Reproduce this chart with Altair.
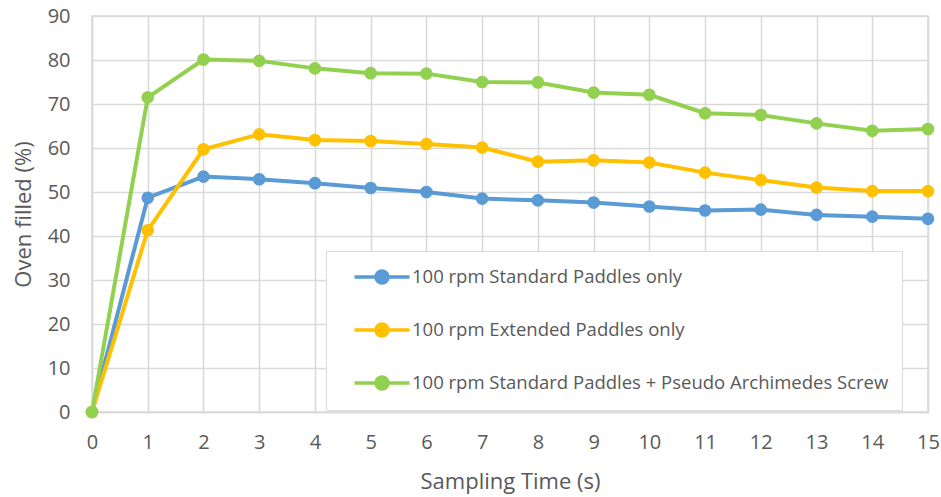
import altair as alt
import pandas as pd

times = list(range(16))
series_names = [
    "100 rpm Standard Paddles only",
    "100 rpm Extended Paddles only",
    "100 rpm Standard Paddles + Pseudo Archimedes Screw",
]
standard = [0, 48.7, 53.5, 52.9, 52.0, 50.9, 50.0, 48.5, 48.1, 47.6, 46.7, 45.8, 46.0, 44.8, 44.4, 43.9]
extended = [0, 41.3, 59.7, 63.1, 61.8, 61.6, 60.9, 60.1, 56.9, 57.2, 56.7, 54.4, 52.7, 51.0, 50.2, 50.2]
screw = [0, 71.5, 80.1, 79.8, 78.1, 77.0, 76.9, 75.0, 74.9, 72.6, 72.1, 67.9, 67.5, 65.6, 63.9, 64.3]
colors = ["#5B9BD5", "#FFC000", "#92D050"]

rows = []
for name, vals in zip(series_names, [standard, extended, screw]):
    for t, v in zip(times, vals):
        rows.append({"t": t, "v": v, "s": name})
df = pd.DataFrame(rows)

font = "Open Sans"
color = alt.Color(
    "s:N",
    scale=alt.Scale(domain=series_names, range=colors),
    sort=series_names,
    legend=alt.Legend(
        title=None,
        orient="none",
        legendX=234,
        legendY=235,
        padding=13,
        fillColor="white",
        strokeColor="#d9d9d9",
        symbolType="M-2.5,0L2.5,0M-0.55,0A0.55,0.55,0,1,1,0.55,0A0.55,0.55,0,1,1,-0.55,0Z",
        symbolSize=484,
        symbolStrokeWidth=3.5,
        symbolOffset=30,
        labelOffset=17,
        rowPadding=25,
        labelFont=font,
        labelFontSize=18.5,
        labelColor="#595959",
        labelLimit=700,
    ),
)

x = alt.X(
    "t:Q",
    scale=alt.Scale(domain=[0, 15], nice=False),
    axis=alt.Axis(
        title="Sampling Time (s)",
        values=times,
        grid=True,
        ticks=False,
        labelFlush=False,
        labelPadding=20,
        titleX=418,
        titleY=69,
        titleBaseline="middle",
    ),
)
y = alt.Y(
    "v:Q",
    scale=alt.Scale(domain=[0, 90], nice=False),
    axis=alt.Axis(
        title="Oven filled (%)",
        values=list(range(0, 91, 10)),
        grid=True,
        ticks=False,
        labelPadding=22,
        titleX=-69,
        titleY=198,
        titleAngle=-90,
        titleBaseline="middle",
    ),
)

chart = (
    alt.Chart(df)
    .mark_line(strokeWidth=4, point=alt.OverlayMarkDef(filled=True, size=160, opacity=1))
    .encode(x=x, y=y, color=color, order=alt.Order("t:Q"))
    .properties(
        width=836,
        height=396,
        autosize=alt.AutoSizeParams(type="none"),
        padding={"left": 92, "top": 16, "right": 13, "bottom": 85},
    )
    .configure_view(stroke="#d9d9d9", strokeWidth=1.5)
    .configure_axis(
        gridColor="#d9d9d9",
        gridWidth=1.5,
        domainColor="#d9d9d9",
        domainWidth=1.5,
        labelFont=font,
        labelFontSize=20,
        labelColor="#595959",
        titleFont=font,
        titleFontSize=22,
        titleFontWeight="normal",
        titleColor="#595959",
    )
)

chart.save("out.html", embed_options={"renderer": "svg", "actions": False})
